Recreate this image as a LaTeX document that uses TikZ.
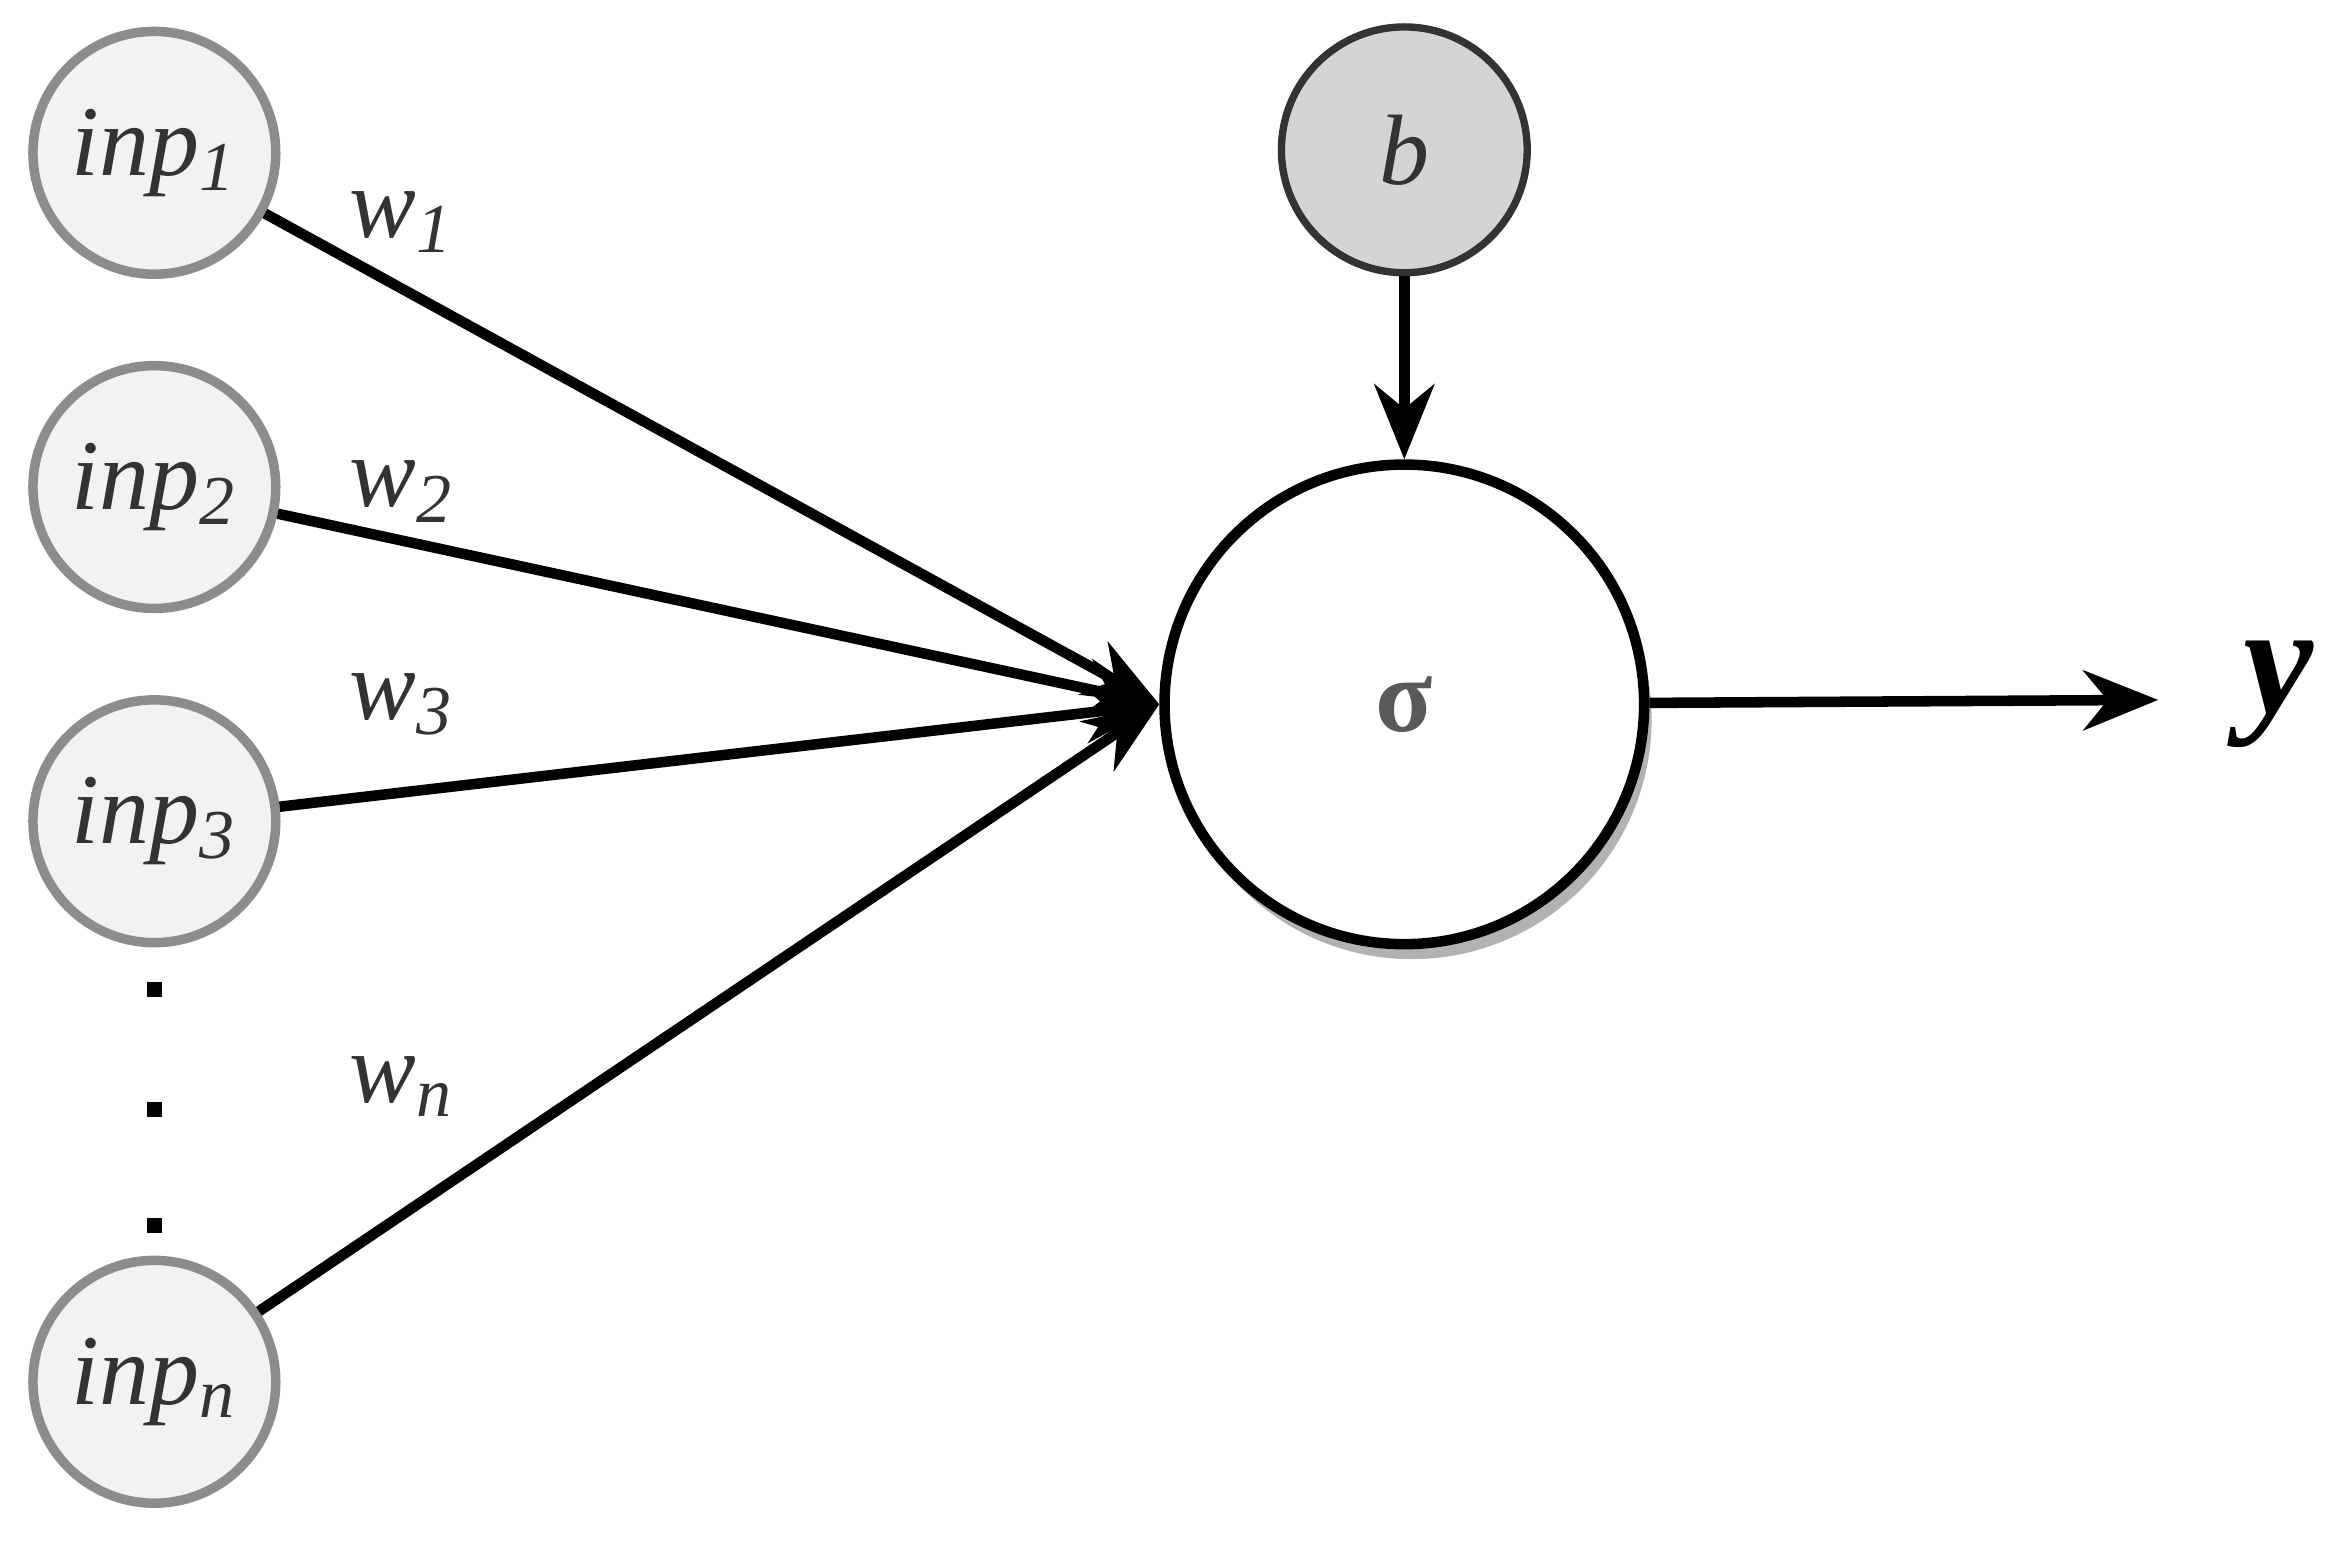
\documentclass[tikz,border=0pt]{standalone}
\usepackage{fontspec}
\setmainfont{Liberation Serif}
\usetikzlibrary{arrows.meta}
\usetikzlibrary{shadows}

\definecolor{inpfill}{HTML}{F2F2F2}
\definecolor{inpdraw}{HTML}{8C8C8C}
\definecolor{biasfill}{HTML}{D4D4D4}

\newcommand{\sub}[1]{\textsubscript{#1}}

\begin{document}
\begin{tikzpicture}[
	inp/.style={circle, draw=inpdraw, fill=inpfill, line width=1.8pt, minimum size=1.62cm, inner sep=0pt, text=black!80, font=\fontsize{19}{22}\selectfont\itshape},
	bias/.style={circle, draw=black!80, fill=biasfill, line width=1.4pt, minimum size=1.64cm, inner sep=0pt, text=black!80, font=\fontsize{19}{22}\selectfont\itshape},
	neuron/.style={circle, draw=black, fill=white, line width=2pt, minimum size=3.2cm, drop shadow={shadow xshift=0.5mm, shadow yshift=-1mm, fill=black!30, opacity=1}},
	weight/.style={text=black!80, font=\fontsize{19}{22}\selectfont\itshape},
	link/.style={line width=2pt, -{Stealth[length=5mm, width=4mm]}}
]
\useasboundingbox (0,0) rectangle (15.68,10.29);

% inputs
\node[inp] (inp1) at (1.03,9.27) {inp\sub{1}};
\node[inp] (inp2) at (1.03,7.04) {inp\sub{2}};
\node[inp] (inp3) at (1.03,4.81) {inp\sub{3}};
\node[inp] (inpn) at (1.03,1.07) {inp\sub{n}};
\foreach \y in {3.69,2.89,2.11}
	\fill (0.98,\y-0.05) rectangle (1.08,\y+0.05);

% neuron and bias
\node[neuron] (sigma) at (9.37,5.59) {\fontsize{20}{24}\selectfont\bfseries\color{black!65}σ};
\node[bias] (b) at (9.37,9.29) {b};
\coordinate (out) at (14.4,5.62);
\node[font=\fontsize{30}{34}\selectfont\bfseries\itshape] (y) at (15.2,5.66) {y};

% connectors
\draw[link] (inp1) -- (sigma.west);
\draw[link] (inp2) -- (sigma.west);
\draw[link] (inp3) -- (sigma.west);
\draw[link] (inpn) -- (sigma.west);
\draw[link] (b) -- (sigma);
\draw[link] (sigma) -- (out);

% weights
\node[weight] (w1) at (2.68,8.81) {w\sub{1}};
\node[weight] (w2) at (2.68,7.01) {w\sub{2}};
\node[weight] (w3) at (2.68,5.59) {w\sub{3}};
\node[weight] (wn) at (2.68,3.04) {w\sub{n}};
\end{tikzpicture}
\end{document}
